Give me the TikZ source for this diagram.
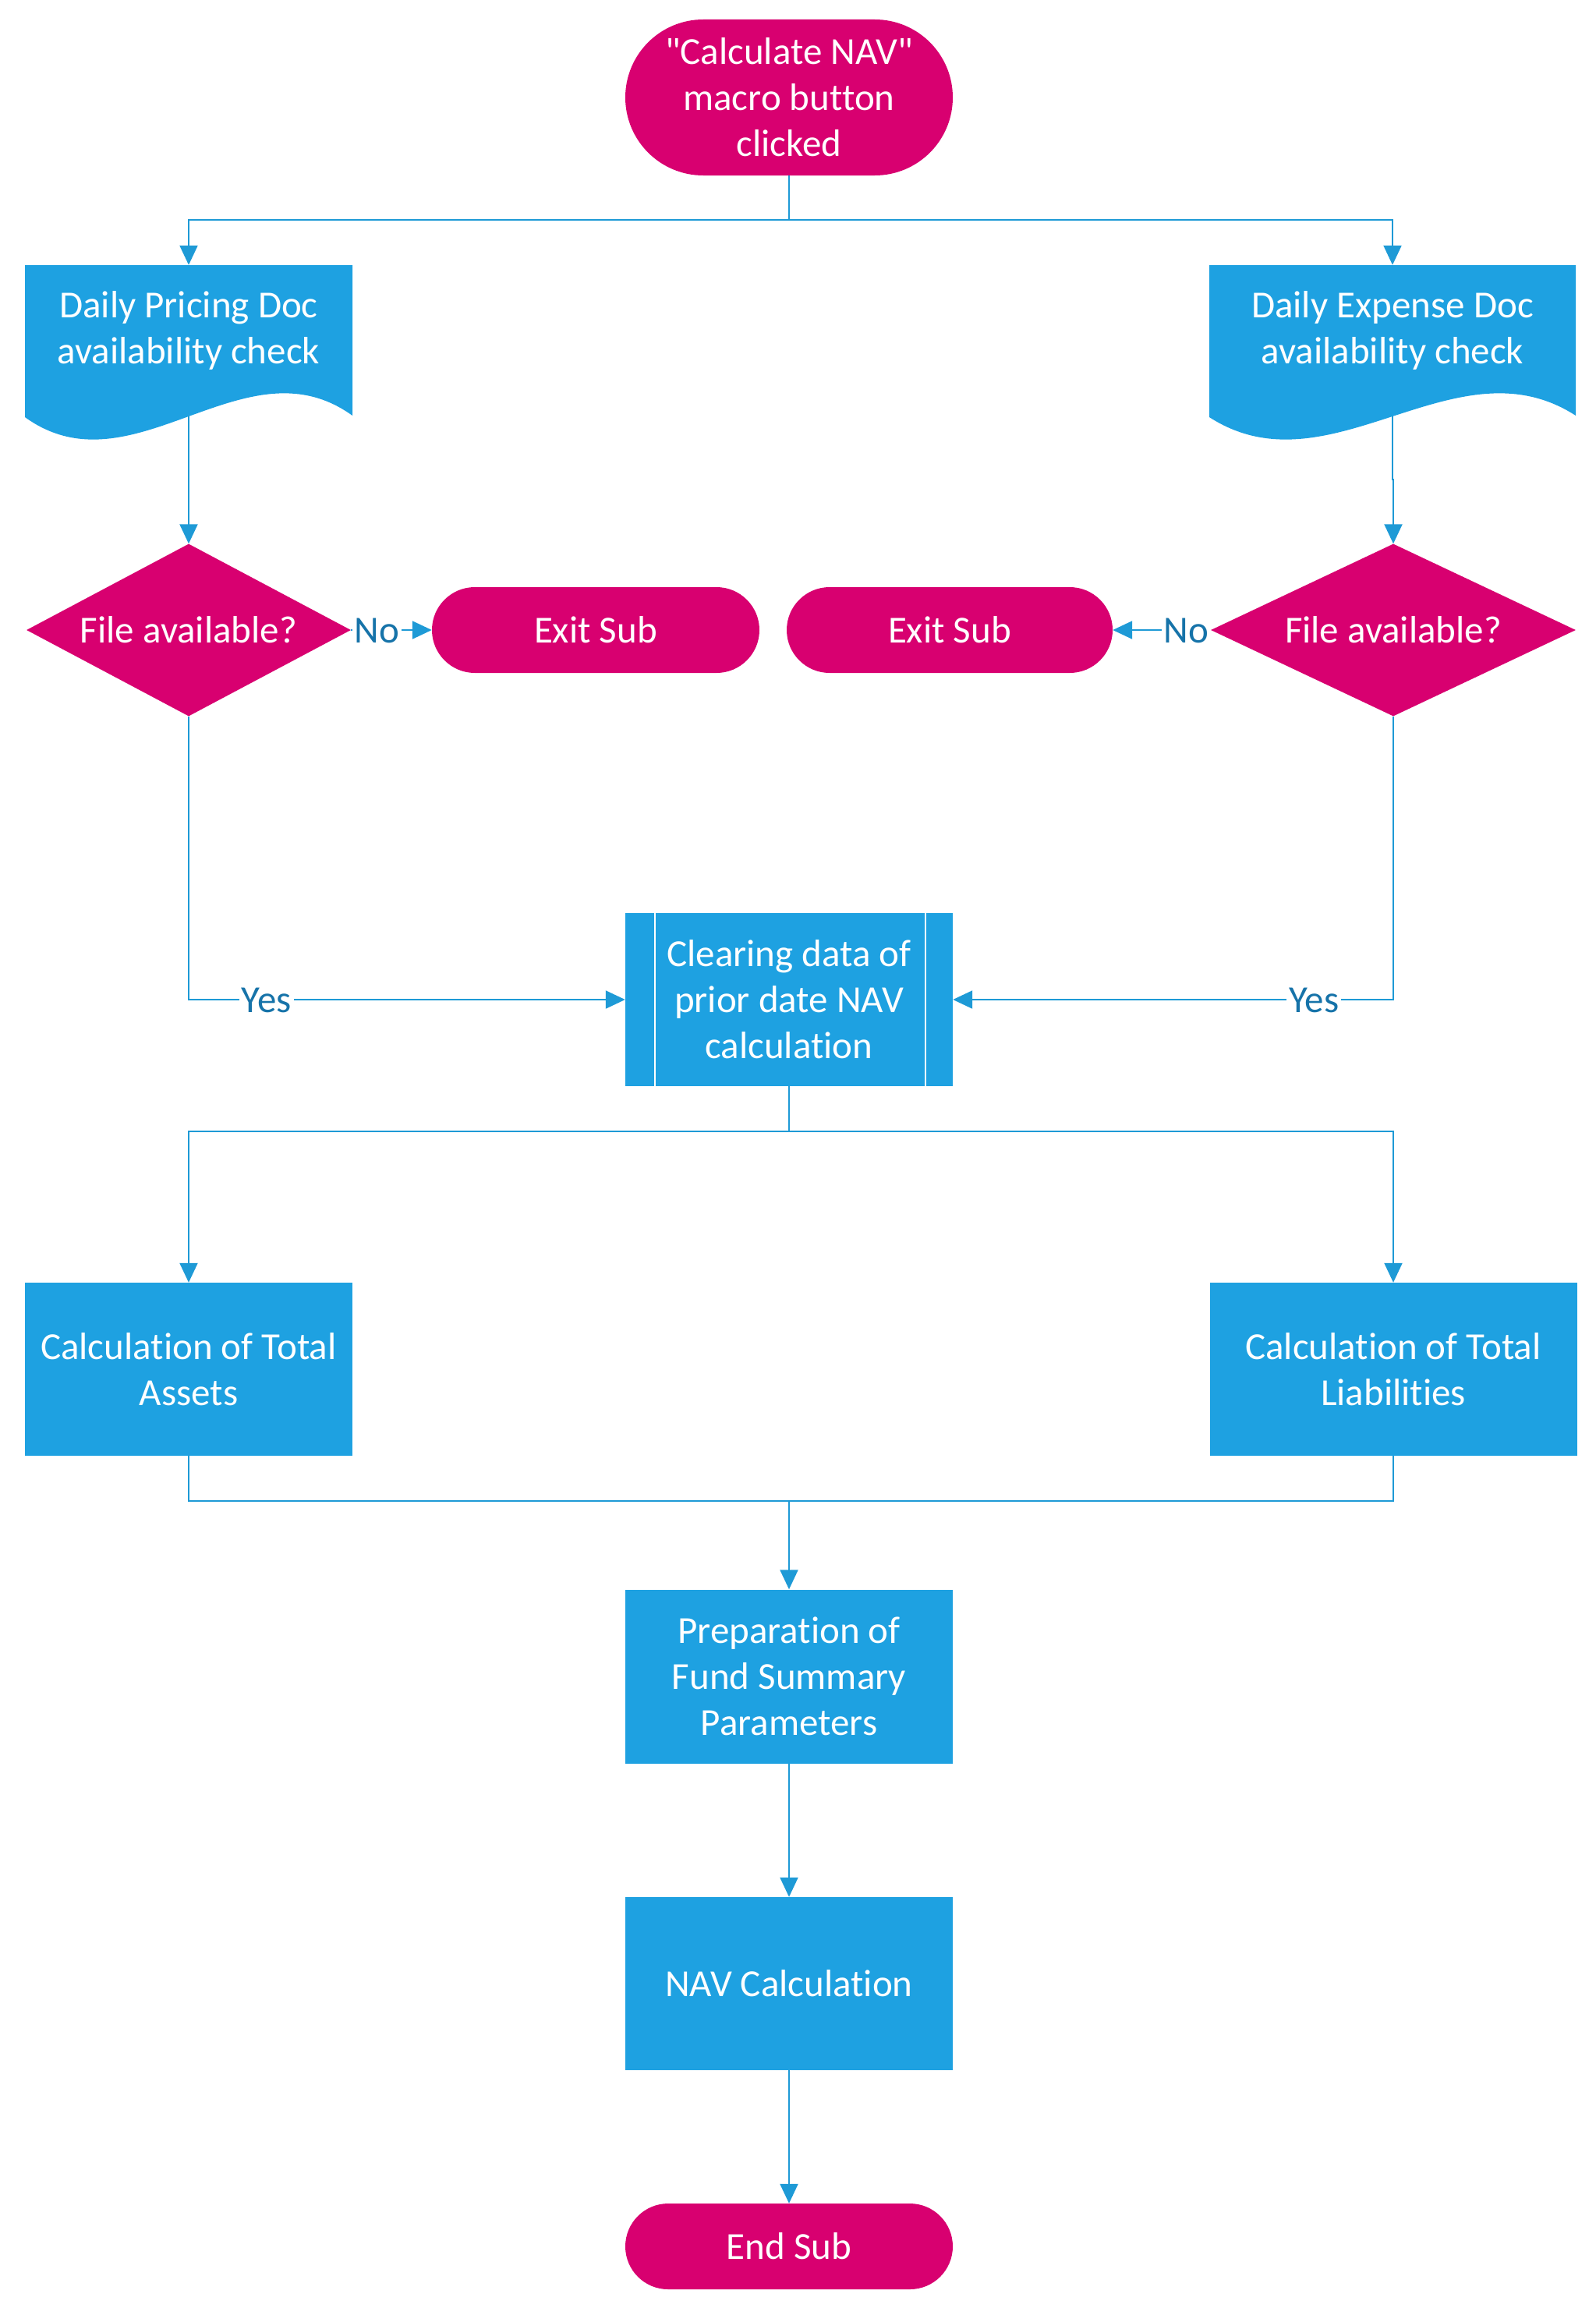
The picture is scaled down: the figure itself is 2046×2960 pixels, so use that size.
\documentclass[tikz,border=0pt]{standalone}
\usepackage{fontspec}
\setmainfont{Carlito}[Ligatures={TeXOff,NoCommon}]
\usetikzlibrary{arrows.meta,shapes.geometric,calc}
\definecolor{boxblue}{HTML}{1EA1E1}
\definecolor{termpink}{HTML}{D80070}
\definecolor{conn}{HTML}{1E9AD6}
\definecolor{lbl}{HTML}{1673A9}
\tikzset{
  docshape/.pic={
    \fill[boxblue] (-\docw,-82) -- (\docw,-82) -- (\docw,111)
      .. controls ({0.34*\docw},11) and ({-0.34*\docw},213) .. (-\docw,113) -- cycle;
  }
}
\newcommand{\docw}{210}
\begin{document}
\begin{tikzpicture}[x=1pt,y=-1pt,
  txt/.style={text=white,font=\fontsize{49}{59}\selectfont,align=center,inner sep=0pt},
  proc/.style={txt,fill=boxblue,minimum width=420pt,minimum height=222pt},
  termx/.style={txt,fill=termpink,rounded corners=55pt,minimum width=420pt,minimum height=110pt},
  dec/.style={diamond,fill=termpink,inner sep=0pt,aspect=1.9},
  conline/.style={draw=conn,line width=2.2pt,-{Triangle[length=25pt,width=23pt]}},
  plain/.style={draw=conn,line width=2.2pt},
  lab/.style={fill=white,text=lbl,font=\fontsize{49}{59}\selectfont,inner sep=3pt,text height=32pt,text depth=0pt},
]
\useasboundingbox (0,0) rectangle (2046,2960);

% start terminator
\node[txt,fill=termpink,rounded corners=100pt,minimum width=420pt,minimum height=200pt] (start) at (1012,125)
  {"Calculate NAV"\\macro button\\clicked};

% document shapes
\renewcommand{\docw}{210}
\pic at (242,422) {docshape};
\renewcommand{\docw}{235}
\pic at (1786,422) {docshape};
\node[txt,minimum width=420pt,minimum height=164pt] (docL) at (242,424) {Daily Pricing Doc\\availability check};
\node[txt,minimum width=470pt,minimum height=164pt] (docR) at (1786,424) {Daily Expense Doc\\availability check};
\coordinate (docLb) at (242,533);
\coordinate (docRb) at (1786,533);

% decisions
\node[dec,minimum width=416pt,minimum height=221pt] (dL) at (242,808) {};
\node[dec,minimum width=468pt,minimum height=221pt] (dR) at (1787,808) {};
\node[txt] (dLt) at (242,808) {File available?};
\node[txt] (dRt) at (1787,808) {File available?};

% exit subs
\node[termx] (xL) at (764,808) {Exit Sub};
\node[termx,minimum width=418pt] (xR) at (1218,808) {Exit Sub};

% clearing (predefined process)
\node[proc] (clr) at (1012,1282) {Clearing data of\\prior date NAV\\calculation};
\draw[white,line width=2pt] ([xshift=38pt]clr.north west) -- ([xshift=38pt]clr.south west);
\draw[white,line width=2pt] ([xshift=-35pt]clr.north east) -- ([xshift=-35pt]clr.south east);

% calculation boxes
\node[proc] (assets) at (242,1756) {Calculation of Total\\Assets};
\node[proc,minimum width=471pt] (liab) at (1787,1756) {Calculation of Total\\Liabilities};
\node[proc,minimum height=223pt] (prep) at (1012,2150) {Preparation of\\Fund Summary\\Parameters};
\node[proc] (nav) at (1012,2544) {NAV Calculation};
\node[termx] (endn) at (1012,2881) {End Sub};

% connectors
\coordinate (split1) at (1012,282);
\draw[plain] (start.south) -- (split1);
\draw[conline] (split1) -| ([yshift=2pt]docL.north);
\draw[conline] (split1) -| ([yshift=2pt]docR.north);

\draw[conline] (docLb) -- (dL.north);
\draw[conline] (docRb) |- ($(docRb)!0.5!(dR.north)$) -| (dR.north);

\draw[conline] (dL.east) -- node[lab,pos=0.32] (noL) {No} (xL.west);
\draw[conline] (dR.west) -- node[lab,pos=0.25] (noR) {No} (xR.east);

\draw[conline] (dL.south) |- node[lab,pos=0.589] (yesL) {Yes} (clr.west);
\draw[conline] (dR.south) |- node[lab,pos=0.59] (yesR) {Yes} (clr.east);

\coordinate (split2) at (1012,1451);
\draw[plain] (clr.south) -- (split2);
\draw[conline] (split2) -| (assets.north);
\draw[conline] (split2) -| (liab.north);

\coordinate (merge) at (1012,1925);
\draw[plain] (assets.south) |- (merge);
\draw[plain] (liab.south) |- (merge);
\draw[conline] (merge) -- (prep.north);

\draw[conline] (prep.south) -- (nav.north);
\draw[conline] (nav.south) -- (endn.north);
\end{tikzpicture}
\end{document}
